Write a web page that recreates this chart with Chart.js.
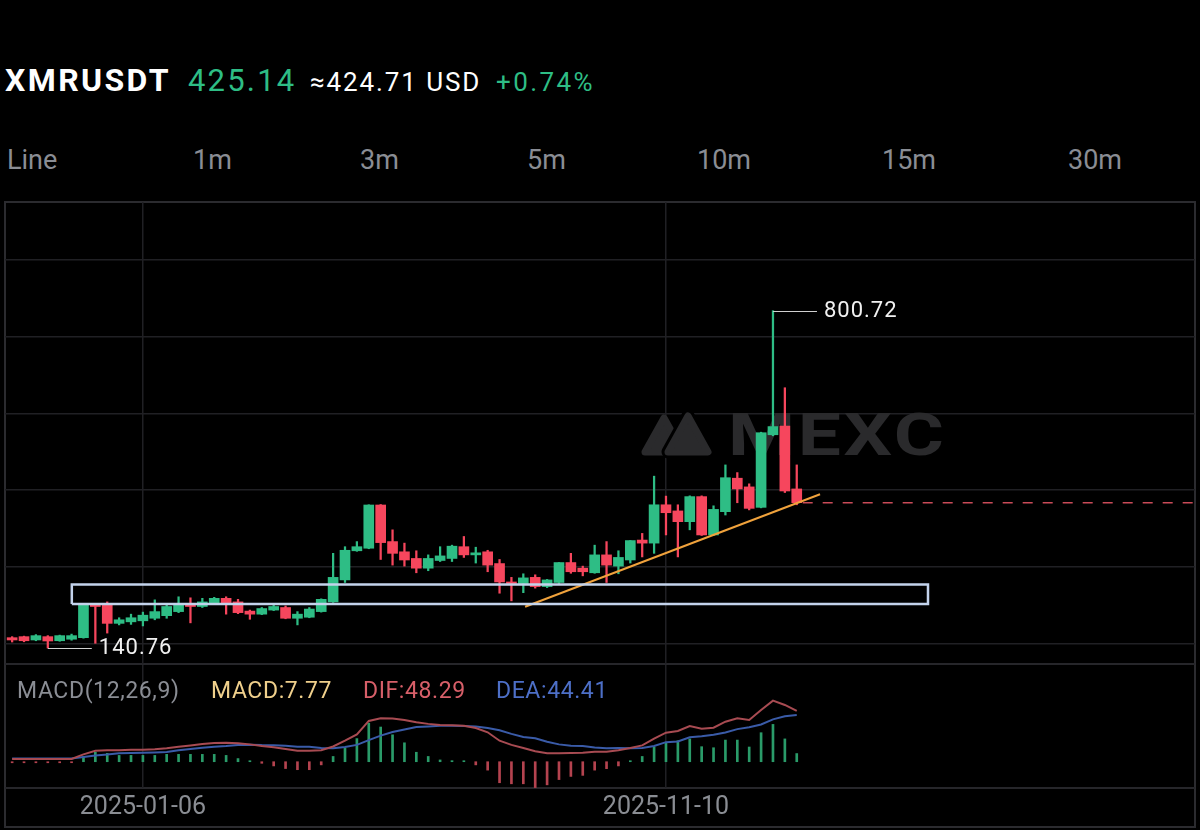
<!DOCTYPE html>
<html>
<head>
<meta charset="utf-8">
<script src="https://cdn.jsdelivr.net/npm/chart.js@4.4.0/dist/chart.umd.min.js"></script>
<style>
  html, body { margin: 0; padding: 0; background: #000; }
  body { width: 1200px; height: 830px; position: relative; overflow: hidden; font-family: Roboto, "Noto Sans", sans-serif; }
  .t { position: absolute; white-space: nowrap; line-height: 1; }
  .tab { font-size: 27px; color: #8a8d94; top: 147px; }
  .ml { font-size: 23px; top: 679px; letter-spacing: 0.6px; }
  #frame { position: absolute; left: 4px; top: 201px; width: 1188px; height: 623px; border: 2px solid #2b2b2f; }
  .sep { position: absolute; left: 5px; width: 1190px; height: 2px; background: #26262a; }
  #main { position: absolute; left: 5px; top: 202px; }
  #macd { position: absolute; left: 5px; top: 665px; }
</style>
</head>
<body>
<div class="t" style="left:5px;top:64px;font-size:32px;font-weight:bold;color:#fff;letter-spacing:2.4px;">XMRUSDT</div>
<div class="t" style="left:188px;top:65px;font-size:31px;color:#2ebd85;letter-spacing:2.2px;">425.14</div>
<div class="t" style="left:310px;top:69px;font-size:26px;color:#fff;letter-spacing:1.9px;">≈424.71 USD</div>
<div class="t" style="left:496px;top:69px;font-size:26px;color:#2ebd85;letter-spacing:2.4px;">+0.74%</div>

<div class="t tab" style="left:7px;">Line</div>
<div class="t tab" style="left:193px;">1m</div>
<div class="t tab" style="left:360px;">3m</div>
<div class="t tab" style="left:527px;">5m</div>
<div class="t tab" style="left:697px;">10m</div>
<div class="t tab" style="left:882px;">15m</div>
<div class="t tab" style="left:1068px;">30m</div>

<div id="frame"></div>
<div class="sep" style="top:663px;"></div>
<div class="sep" style="top:787px;"></div>

<canvas id="main" width="1190" height="462"></canvas>
<canvas id="macd" width="1190" height="162"></canvas>

<div class="t ml" style="left:17px;color:#8a8d94;">MACD(12,26,9)</div>
<div class="t ml" style="left:211px;color:#f0d08c;">MACD:7.77</div>
<div class="t ml" style="left:363px;color:#d75f69;">DIF:48.29</div>
<div class="t ml" style="left:496px;color:#4d6fc7;">DEA:44.41</div>

<script>
// weekly candles, first week starts 2024-10-21
const firstWeek = '2024-10-21';
const dateTicks = ['2025-01-06', '2025-11-10'];
const priceGrid = [150, 300, 450, 600, 750, 900];

const opens = [161, 163, 156.5, 163, 155, 158, 161, 226, 225, 189, 192, 194, 199, 204, 212, 226, 222, 228, 238, 231,
    213, 207, 215, 220, 199, 201, 212, 231, 274, 331, 336, 420.6, 349, 329, 316, 297, 312, 316, 339, 323,
    329, 306, 270, 267, 279, 261, 269, 308, 297, 288, 323, 301, 313, 352, 346, 421, 409, 388, 437, 362,
    407.5, 473, 456, 416, 558, 575, 452];
const highs = [163, 164, 167, 165, 166, 168, 226, 228, 231, 200, 207, 211, 235, 226, 241, 239, 238, 240, 241, 236,
    215, 220, 228, 223, 212, 220, 237, 326, 339, 349, 421, 421.5, 372, 346, 331, 323, 339, 342, 359, 338,
    332, 314, 279, 286, 284, 275, 308, 326, 301, 342, 349, 331, 351, 365, 477, 438, 421, 438.5, 438.5, 419,
    499, 484, 462, 563, 800.72, 650, 499];
const lows = [152.5, 153, 155, 140.76, 154, 156, 160, 150, 170, 186, 187, 184, 196, 199, 210, 190, 220, 227, 207, 208,
    197, 206, 214, 198, 186, 200, 211, 230, 269, 330, 335, 314, 303, 301, 288, 292, 310, 310, 318, 307,
    290, 248, 233, 249, 258, 259, 267, 287, 282, 287, 269, 286, 307, 319, 326, 362, 319, 372, 361, 361,
    401, 425, 411, 415, 556, 445, 421];
const closes = [156.5, 155, 165, 154.5, 165, 165, 225, 222, 189, 196, 200, 205, 212, 222, 226, 222, 231, 238, 228, 210,
    207, 218, 222, 199, 207, 217, 236, 279, 332, 339, 420.6, 347, 326, 313, 297, 316, 321, 340, 323, 327,
    303, 270, 267, 278, 261, 274, 308, 290, 290, 323, 303, 318, 351, 346, 421, 405.5, 388, 437, 362, 412,
    474, 452, 414, 562, 574, 448, 425.14];

const dif = [2.6, 2.6, 2.6, 2.6, 2.6, 2.6, 7, 10.5, 10.8, 11, 11.3, 11.5, 11.8, 12.8, 14.3, 15.5, 16.8, 17.8, 18, 17.5,
    16.5, 15, 13.7, 12, 10.5, 10.5, 11, 14.5, 20, 26, 38.8, 41.3, 41, 39.7, 37.5, 36, 35, 34.8, 34.2, 32,
    28, 20, 16, 13, 10, 8, 8, 8.3, 8.5, 9.5, 9.6, 11, 13, 15.5, 22, 27.6, 29.2, 34, 31.4, 32.4,
    38.1, 41.3, 39.7, 49.2, 58.1, 54, 48.29];
const dea = [3.1, 3.1, 3.1, 3.1, 3.1, 3.1, 4.5, 6, 6.8, 8, 8.3, 8.5, 8.8, 9.3, 10.8, 12, 13.3, 14.3, 15, 16,
    16.2, 15.8, 15.7, 15.3, 14.3, 14.3, 13, 12.8, 14, 16, 20.5, 24.8, 28.2, 30.7, 33, 33.5, 34.2, 34.3, 34, 33.5,
    32, 30, 26.5, 23.5, 22.3, 19, 16.5, 15.3, 15, 13.5, 12.9, 13, 12.7, 13, 15, 18.6, 19.2, 23.2, 24.3, 25.7,
    27.8, 31, 32.7, 35.4, 40.3, 43.2, 44.41];
const macdHist = [-1, -1, -1, -1, -1, -0.5, 5, 9, 8, 6, 6, 6, 6, 7, 7, 7, 7, 7, 6, 3,
    0.5, -1.5, -4, -6.5, -7.6, -7.6, -3, 5, 13, 22, 36.7, 33, 25.6, 18, 9, 5, 1.7, 1, 0.3, -3,
    -8, -20, -21, -21, -24.6, -22, -17, -14, -13, -8, -6.6, -4, 0.5, 5, 14, 18, 20, 21.7, 14.3, 13.3,
    20.6, 20.6, 14, 27.6, 35.5, 21.7, 7.77];

// drawn objects, in (week index, price)
const zoneBox = { from: 5.02, to: 77.04, low: 226.9, high: 265 };
const trendLine = [[43.15, 221.6], [67.96, 441.5]];
const lastPrice = 425.14;

const GREEN = '#2ebd85';
const RED = '#f6465d';
const GRID = '#202024';

const dates = [];
const d0 = new Date(firstWeek + 'T00:00:00Z');
for (let i = 0; i < opens.length; i++) {
    const d = new Date(d0.getTime() + i * 7 * 86400000);
    dates.push(d.toISOString().slice(0, 10));
}
const tickIdx = dateTicks.map(t => dates.indexOf(t));

const idx = opens.map((_, i) => i);
const candleColor = idx.map(i => closes[i] >= opens[i] ? GREEN : RED);

const xAxis = (showLabels) => ({
    type: 'linear',
    min: -0.6,
    max: 99.5,
    offset: false,
    grid: { color: GRID, lineWidth: 1.5, drawTicks: false, offset: false },
    border: { display: false },
    ticks: {
        display: showLabels,
        color: '#8a8d93',
        font: { family: 'Roboto', size: 25 },
        padding: 4.5,
        maxRotation: 0,
        autoSkip: false,
        callback: v => dates[v] || ''
    },
    afterBuildTicks: s => { s.ticks = tickIdx.map(v => ({ value: v })); }
});

const overlay = {
    id: 'overlay',
    beforeDatasetsDraw(chart) {
        const { ctx, chartArea } = chart;
        const ox = chartArea.left - 5, oy = chartArea.top - 202;
        ctx.save();
        ctx.fillStyle = '#2a2a2c';
        ctx.strokeStyle = '#2a2a2c';
        ctx.lineJoin = 'round';
        ctx.lineWidth = 7;
        const tri = (a, b, c) => {
            ctx.beginPath();
            ctx.moveTo(ox + a[0], oy + a[1]);
            ctx.lineTo(ox + b[0], oy + b[1]);
            ctx.lineTo(ox + c[0], oy + c[1]);
            ctx.closePath();
        };
        tri([645, 452], [664, 418], [683, 452]);
        ctx.fill(); ctx.stroke();
        tri([668, 452], [688, 416], [708, 452]);
        ctx.strokeStyle = '#000';
        ctx.lineWidth = 13;
        ctx.stroke();
        ctx.strokeStyle = '#2a2a2c';
        ctx.lineWidth = 7;
        ctx.fill(); ctx.stroke();
        // wordmark, stretched wide like the MEXC logo type
        ctx.translate(ox + 728, oy + 455);
        ctx.scale(1.3, 1);
        ctx.font = 'bold 59px Roboto';
        ctx.letterSpacing = '2px';
        ctx.textBaseline = 'alphabetic';
        ctx.fillText('MEXC', 0, 0);
        ctx.restore();
    },
    afterDatasetsDraw(chart) {
        const { ctx } = chart;
        const x = chart.scales.x, y = chart.scales.y;
        const hi = highs.indexOf(Math.max(...highs));
        const lo = lows.indexOf(Math.min(...lows));
        const mark = (i, v) => {
            const px = x.getPixelForValue(i), py = Math.round(y.getPixelForValue(v)) + 0.5;
            ctx.save();
            ctx.strokeStyle = '#d0d0d0';
            ctx.lineWidth = 1.2;
            ctx.beginPath();
            ctx.moveTo(px, py);
            ctx.lineTo(px + 44, py);
            ctx.stroke();
            ctx.fillStyle = '#f0f0f0';
            ctx.font = '22px Roboto';
            ctx.letterSpacing = '1px';
            ctx.textBaseline = 'middle';
            ctx.fillText(v.toFixed(2), px + 51, py);
            ctx.restore();
        };
        mark(hi, highs[hi]);
        mark(lo, lows[lo]);
    }
};

new Chart(document.getElementById('main'), {
    data: {
        datasets: [
            {
                type: 'line', label: 'zone', order: 0,
                data: [[zoneBox.from, zoneBox.low], [zoneBox.to, zoneBox.low], [zoneBox.to, zoneBox.high],
                    [zoneBox.from, zoneBox.high], [zoneBox.from, zoneBox.low]].map(p => ({ x: p[0], y: p[1] })),
                borderColor: '#c3d3ec', borderWidth: 2.5, pointRadius: 0, fill: false, tension: 0
            },
            {
                type: 'line', label: 'trend', order: 0,
                data: trendLine.map(p => ({ x: p[0], y: p[1] })),
                borderColor: '#f0a23c', borderWidth: 2, pointRadius: 0, fill: false
            },
            {
                type: 'line', label: 'last', order: 0,
                data: [{ x: opens.length - 0.5, y: lastPrice }, { x: 99.5, y: lastPrice }],
                borderColor: '#c94b58', borderWidth: 1.5, borderDash: [10, 10], pointRadius: 0, fill: false
            },
            {
                type: 'bar', label: 'body', order: 1, grouped: false,
                data: idx.map(i => ({ x: i, y: [opens[i], closes[i]] })),
                backgroundColor: candleColor, barThickness: 10, minBarLength: 1.5
            },
            {
                type: 'bar', label: 'wick', order: 2, grouped: false,
                data: idx.map(i => ({ x: i, y: [lows[i], highs[i]] })),
                backgroundColor: candleColor, barThickness: 1.6
            }
        ]
    },
    options: {
        responsive: false,
        animation: false,
        layout: { padding: 0 },
        plugins: { legend: { display: false }, tooltip: { enabled: false } },
        scales: {
            x: xAxis(false),
            y: {
                min: 109.5,
                max: 1013.4,
                grid: { color: GRID, lineWidth: 1.5, drawTicks: false },
                border: { display: false },
                ticks: { display: false },
                afterBuildTicks: s => { s.ticks = priceGrid.map(v => ({ value: v })); }
            }
        }
    },
    plugins: [overlay]
});

new Chart(document.getElementById('macd'), {
    data: {
        datasets: [
            {
                type: 'line', label: 'DIF', order: 0,
                data: idx.map(i => ({ x: i, y: dif[i] })),
                borderColor: '#a84b52', borderWidth: 2, pointRadius: 0, fill: false, tension: 0
            },
            {
                type: 'line', label: 'DEA', order: 0,
                data: idx.map(i => ({ x: i, y: dea[i] })),
                borderColor: '#3a5ba8', borderWidth: 2, pointRadius: 0, fill: false, tension: 0
            },
            {
                type: 'bar', label: 'MACD', order: 1,
                data: idx.map(i => ({ x: i, y: macdHist[i] })),
                backgroundColor: macdHist.map(v => v >= 0 ? '#2a9b69' : '#b4434f'),
                barThickness: 2, minBarLength: 1
            }
        ]
    },
    options: {
        responsive: false,
        animation: false,
        layout: { padding: 0 },
        plugins: { legend: { display: false }, tooltip: { enabled: false } },
        scales: {
            x: xAxis(true),
            y: {
                min: -25,
                max: 92,
                grid: { display: false, drawTicks: false },
                border: { display: false },
                ticks: { display: false }
            }
        }
    }
});
</script>
</body>
</html>
